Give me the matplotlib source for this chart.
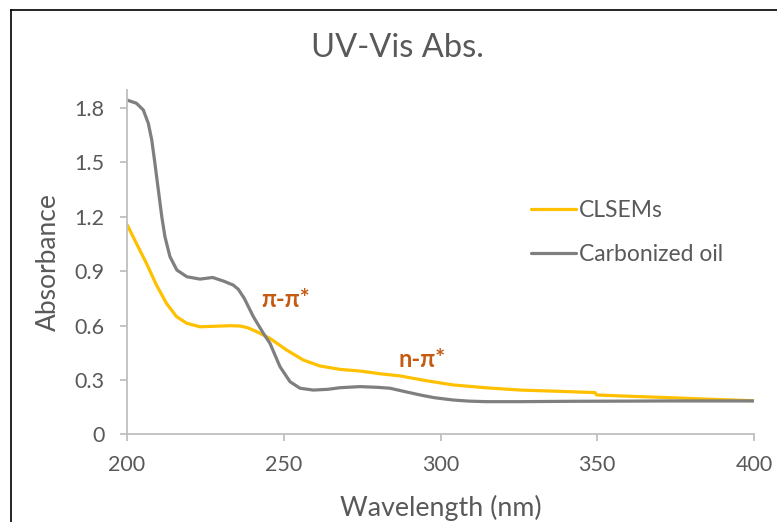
import matplotlib
matplotlib.use("Agg")
import matplotlib.pyplot as plt
from matplotlib.lines import Line2D

# ---- data ----
oil_wl = [200.1, 203.0, 205.2, 206.8, 207.9, 208.9, 210.0, 211.1, 212.1, 213.7,
          215.9, 219.1, 223.3, 227.3, 230.8, 233.9, 235.5, 237.4, 240.3, 243.5,
          245.6, 248.8, 252.0, 255.2, 259.4, 264.0, 268.0, 274.3, 280.0, 283.9,
          288.0, 293.5, 298.0, 304.1, 309.0, 314.7, 325.0, 341.3, 360.0, 373.2, 399.8]
oil_abs = [1.843, 1.826, 1.789, 1.715, 1.623, 1.495, 1.347, 1.200, 1.090, 0.980,
           0.906, 0.869, 0.856, 0.865, 0.845, 0.823, 0.800, 0.750, 0.649, 0.557,
           0.502, 0.373, 0.290, 0.254, 0.244, 0.248, 0.257, 0.263, 0.259, 0.254,
           0.238, 0.217, 0.202, 0.189, 0.183, 0.180, 0.180, 0.182, 0.183, 0.184, 0.184]

cls_wl = [200.1, 203.0, 206.2, 209.4, 212.6, 215.8, 219.1, 223.3, 228.0, 232.9,
          236.1, 238.5, 241.4, 245.6, 250.9, 256.2, 261.5, 268.0, 274.3, 280.7,
          287.1, 295.0, 304.1, 315.0, 325.4, 338.0, 349.3, 349.8, 360.0, 373.2, 385.0, 399.8]
cls_abs = [1.154, 1.053, 0.943, 0.823, 0.722, 0.649, 0.612, 0.593, 0.596, 0.599,
           0.597, 0.588, 0.566, 0.529, 0.465, 0.410, 0.377, 0.358, 0.349, 0.334,
           0.322, 0.297, 0.272, 0.256, 0.244, 0.237, 0.230, 0.217, 0.210, 0.202, 0.194, 0.185]

x_ticks = [200, 250, 300, 350, 400]
y_ticks = [0, 0.3, 0.6, 0.9, 1.2, 1.5, 1.8]
y_tick_labels = ["0", "0.3", "0.6", "0.9", "1.2", "1.5", "1.8"]

series_names = ["CLSEMs", "Carbonized oil"]
annotations = [("π-π*", 250.7, 0.746), ("n-π*", 294.1, 0.41)]

# ---- styling ----
plt.rcParams['font.family'] = ['Lato', 'DejaVu Sans']
TXT = "#595959"
AX = "#BFBFBF"
YEL = "#FFC000"
GRY = "#7F7F7F"
ANN = "#C55A11"

W, H = 777, 522
fig = plt.figure(figsize=(W / 100, H / 100), dpi=100)
x0, x1 = 127, 754
y0, ytop = 434.3, 90
ax = fig.add_axes([x0 / W, 1 - y0 / H, (x1 - x0) / W, (y0 - ytop) / H])

ax.plot(cls_wl, cls_abs, color=YEL, lw=2.3, label=series_names[0], solid_capstyle='round')
ax.plot(oil_wl, oil_abs, color=GRY, lw=2.3, label=series_names[1], solid_capstyle='round')

ax.set_xlim(200, 400)
ax.set_ylim(0, (y0 - ytop) / 181.3)
ax.set_xticks(x_ticks)
ax.set_yticks(y_ticks)
ax.set_yticklabels(y_tick_labels)

for s in ['top', 'right']:
    ax.spines[s].set_visible(False)
for s in ['left', 'bottom']:
    ax.spines[s].set_color(AX)
    ax.spines[s].set_linewidth(1.3)
ax.tick_params(axis='both', colors=AX, width=1.3, length=5, direction='out',
               labelcolor=TXT, labelsize=15.5)
ax.tick_params(axis='x', pad=10)
ax.tick_params(axis='y', pad=11)

ax.set_xlabel("Wavelength (nm)", color=TXT, fontsize=19.3, labelpad=14.5)
ax.set_ylabel("Absorbance", color=TXT, fontsize=19, labelpad=10)
fig.text(397 / W, 1 - 48 / H, "UV-Vis Abs.", ha='center', va='center',
         color=TXT, fontsize=23.5)

for txt, xx, yy in annotations:
    ax.text(xx, yy, txt, color=ANN, fontsize=17, fontweight='bold',
            ha='center', va='center')

leg = ax.legend(loc='upper left', bbox_to_anchor=((531 - x0) / (x1 - x0), (y0 - 200) / (y0 - ytop)),
                frameon=False, fontsize=16.5, handlelength=1.95, handletextpad=0.15,
                labelspacing=1.02, borderaxespad=0, borderpad=0)
for t in leg.get_texts():
    t.set_color(TXT)

# partial frame of the screenshot
fig.add_artist(Line2D([11 / W, 11 / W], [0, 1 - 10 / H], color='black', lw=1.2,
                      transform=fig.transFigure))
fig.add_artist(Line2D([11 / W, 1], [1 - 10 / H, 1 - 10 / H], color='black', lw=1.2,
                      transform=fig.transFigure))

fig.savefig("out.png", dpi=100, facecolor='white')
